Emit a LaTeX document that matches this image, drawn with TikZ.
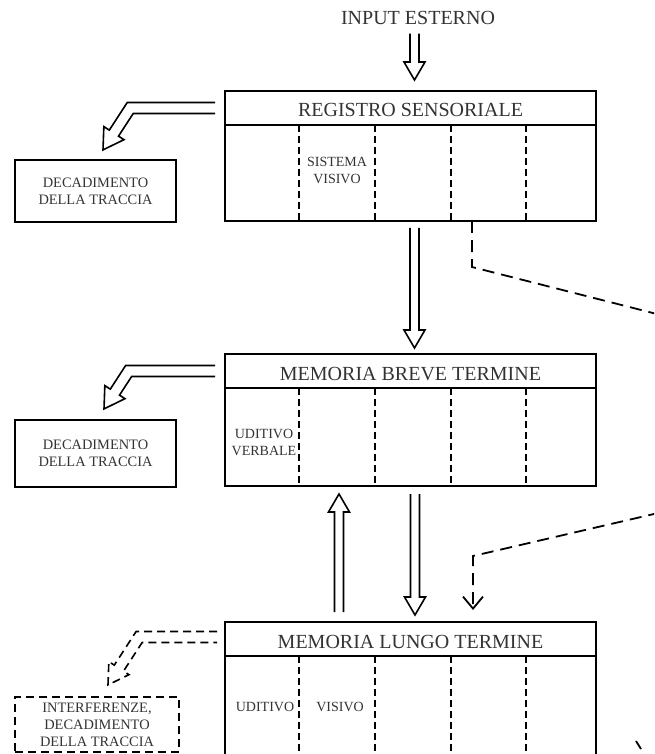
\documentclass[tikz,border=0pt]{standalone}
\usepackage{fontspec}
\setmainfont{Liberation Serif}
\usetikzlibrary{positioning, calc, arrows.meta}

\tikzset{
  box/.style={draw, line width=1.2pt, inner sep=0pt, outer sep=0pt, minimum width=185.5pt},
  titlebox/.style={box, minimum height=17pt, text height=9pt, text depth=0pt,
    font=\fontsize{10}{12}\selectfont, text=black!80},
  decay/.style={draw, line width=1.1pt, inner sep=1pt, minimum width=80.5pt, align=center,
    font=\fontsize{7.2}{8.5}\selectfont, text=black!80},
  label/.style={align=center, inner sep=0pt, font=\fontsize{7}{8.5}\selectfont, text=black!80},
  divider/.style={line width=0.8pt, dash pattern=on 3.5pt off 2pt},
  link/.style={line width=0.9pt, dash pattern=on 6pt off 3.5pt},
  hollow/.style={fill=white, line width=0.8pt, line join=miter},
}

% straight hollow arrow: start, tip
\newcommand\hollowvert[2]{%
  \draw[hollow] let \p1=(#1), \p2=(#2), \n1={ifthenelse(\y1>\y2,1,-1)} in
    (\x1-2.25pt,\y1) -- (\x1-2.25pt,{\y2+(\n1)*9pt}) -- (\x1-5.25pt,{\y2+(\n1)*9pt})
    -- (\x2,\y2) -- (\x1+5.25pt,{\y2+(\n1)*9pt}) -- (\x1+2.25pt,{\y2+(\n1)*9pt})
    -- (\x1+2.25pt,\y1);}

% bent hollow arrow: left, then down-left to the tip
\newcommand\bentarrow[3][]{%
  \draw[hollow,#1] let \p1=(#2), \p2=(#3), \p3=({\x2+0.65*(\y1-\y2)},\y1) in
    (\x1,\y1+2.75pt) -- (\x3-1.5pt,\y1+2.75pt) -- (\x2+3.15pt,\y2+9.88pt)
    -- (\x2+0.42pt,\y2+11.65pt) -- (\x2,\y2) -- (\x2+10.48pt,\y2+5.11pt)
    -- (\x2+7.75pt,\y2+6.88pt) -- (\x3+1.5pt,\y1-2.75pt) -- (\x1,\y1-2.75pt);}

\begin{document}
\begin{tikzpicture}[x=0.5pt, y=-0.5pt]
\useasboundingbox (0,0) rectangle (654,754);
\clip (0,0) rectangle (654,754);

\node[anchor=base, inner sep=4pt, font=\fontsize{10}{12}\selectfont, text=black!80] (inp) at (418,25) {INPUT ESTERNO};

% the three stores
\node[titlebox, anchor=north west] (regt) at (225,91) {REGISTRO SENSORIALE};
\node[box, minimum height=48pt, below=0pt of regt] (regb) {};
\node[titlebox, anchor=north west] (mbtt) at (225,354) {MEMORIA BREVE TERMINE};
\node[box, minimum height=49pt, below=0pt of mbtt] (mbtb) {};
\node[titlebox, anchor=north west] (mltt) at (225,622) {MEMORIA LUNGO TERMINE};
\node[box, minimum height=55pt, below=0pt of mltt] (mltb) {};

\foreach \b in {regb, mbtb, mltb}
  \foreach \dx in {74, 150, 226, 301}
    \draw[divider] ($(\b.north west)+(\dx,0)$) -- ($(\b.south west)+(\dx,0)$);

\node[label] (visr) at ($(regb.north west)+(112,45)$) {SISTEMA\\VISIVO};
\node[label] (udvb) at ($(mbtb.north west)+(39,54)$) {UDITIVO\\VERBALE};
\node[label] (udlt) at ($(mltb.north west)+(40,51)$) {UDITIVO};
\node[label] (vilt) at ($(mltb.north west)+(115,51)$) {VISIVO};

% decay boxes
\node[decay, minimum height=31pt] (dec1) at (95.5,191) {DECADIMENTO\\DELLA TRACCIA};
\node[decay, minimum height=33.5pt] (dec2) at (95.5,453.5) {DECADIMENTO\\DELLA TRACCIA};
\node[decay, dash pattern=on 4pt off 2.5pt, minimum width=82pt, minimum height=27.5pt] (dec3)
  at (97,724.5) {INTERFERENZE,\\DECADIMENTO\\DELLA TRACCIA};

% hollow arrows
\coordinate (inT) at ($(regt.north)+(4,-11)$);
\hollowvert{inp.south -| inT}{inT}
\hollowvert{$(regb.south)+(4,7)$}{$(mbtt.north)+(4,-6)$}
\hollowvert{$(mbtb.south)+(4.5,8)$}{$(mltt.north)+(4.5,-7)$}
\hollowvert{$(mltt.north)+(-71.5,-10)$}{$(mbtb.south)+(-71.5,8)$}

\bentarrow{$(regt.west)+(-10,0)$}{$(dec1.north)+(7.5,-9)$}
\bentarrow{$(mbtt.west)+(-10,0)$}{$(dec2.north)+(8.5,-10)$}
\bentarrow[dash pattern=on 4pt off 2.5pt]{$(mltt.west)+(-8,-2)$}{$(dec3.north)+(11,-11)$}

% dashed links
\coordinate (out1) at (660,314.8);
\draw[link] ($(regb.south west)+(247,0)$) -- ++(0,46) -- (out1);
\coordinate (in2) at (660,512.6);
\coordinate (bend2) at ($(mltt.north west)+(248,-66)$);
\draw[link, -{Straight Barb[length=6pt, width=10pt]}] (in2) -- (bend2) -- ($(mltt.north west)+(248,-12)$);
\draw[line width=0.9pt] (636,741) -- (641,749);
\end{tikzpicture}
\end{document}
